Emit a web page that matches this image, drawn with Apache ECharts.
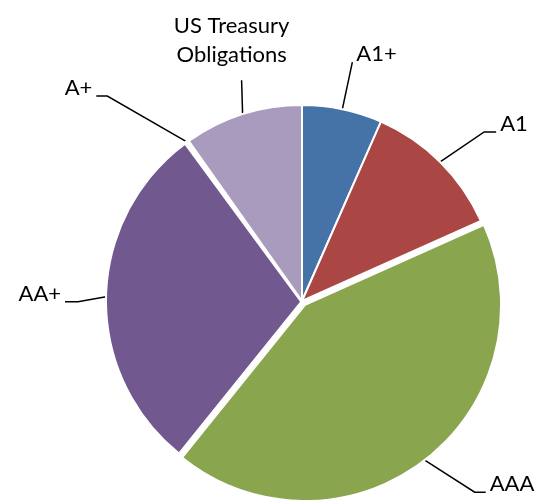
<!DOCTYPE html>
<html><head><meta charset="utf-8">
<script src="https://cdn.jsdelivr.net/npm/echarts@6/dist/echarts.min.js"></script>
<style>html,body{margin:0;padding:0;background:#fff}#c{width:538px;height:500px}</style>
</head><body><div id="c"></div>
<script>
const categories = ['A1+', 'A1', 'AAA', 'AA+', 'A+', 'US Treasury\nObligations'];
const values = [6.6, 11.7, 42.5, 29.1, 0.3, 9.8];
const colors = ['#4572A7', '#AA4643', '#89A54E', '#71588F', '#4198AF', '#A99BBD'];
const explodedName = 'AAA';

// layout / style settings
const CX = 302, CY = 301, R = 196, EXPLODE = 5;
const leaderStyle = [
  {dx: 10, dy: -47, h: 0, side: 'right'},
  {dx: 44, dy: -30, h: 12, side: 'right'},
  {dx: 50, dy: 32, h: 11, side: 'right'},
  {dx: -28, dy: 5, h: 13, side: 'left'},
  {dx: -80, dy: -46, h: 11, side: 'left'},
  {dx: -1, dy: -34, h: 0, side: 'top'}
];

const exIdx = categories.indexOf(explodedName);
const total = values.reduce((a, b) => a + b, 0);
const before = values.slice(0, exIdx).reduce((a, b) => a + b, 0);
const midA = (before + values[exIdx] / 2) / total * 2 * Math.PI;
const ex = [EXPLODE * Math.sin(midA), -EXPLODE * Math.cos(midA)];

const transparent = 'rgba(0,0,0,0)';
const chart = echarts.init(document.getElementById('c'), null, {renderer: 'canvas'});
chart.setOption({
  animation: false,
  series: [{
    type: 'pie',
    center: [CX, CY],
    radius: [0, R],
    startAngle: 90,
    clockwise: true,
    avoidLabelOverlap: false,
    minShowLabelAngle: 0,
    silent: true,
    itemStyle: {borderColor: '#fff', borderWidth: 2},
    label: {
      show: true, color: '#000', fontFamily: 'Lato', fontSize: 22, lineHeight: 29,
      position: 'outside'
    },
    labelLine: {show: true, length: 30, length2: 10, smooth: false, lineStyle: {color: '#000', width: 1.5}},
    labelLayout: function (params) {
      const i = params.dataIndex;
      const s = leaderStyle[i];
      const pts = params.labelLinePoints;
      if (!pts) return {hideOverlap: false};
      let p0 = pts[0];
      if (i === exIdx) p0 = [p0[0] + ex[0], p0[1] + ex[1]];
      const p1 = [p0[0] + s.dx, p0[1] + s.dy];
      if (s.side === 'top') {
        return {
          x: p1[0] - 10, y: p1[1] - 40, align: 'center', verticalAlign: 'middle',
          hideOverlap: false, labelLinePoints: [p0, p1, p1]
        };
      }
      const dir = s.side === 'right' ? 1 : -1;
      const p2 = [p1[0] + dir * s.h, p1[1]];
      return {
        x: p2[0] + dir * 4, y: p2[1] - 8, align: s.side === 'right' ? 'left' : 'right',
        verticalAlign: 'middle', hideOverlap: false, labelLinePoints: [p0, p1, p2]
      };
    },
    data: categories.map((c, i) => ({
      name: c, value: values[i],
      itemStyle: i === exIdx ? {color: transparent, borderColor: transparent}
        : (c === 'A+' ? {color: colors[i], borderWidth: 4} : {color: colors[i]})
    }))
  }, {
    type: 'pie',
    center: [CX + ex[0], CY + ex[1]],
    radius: [0, R],
    startAngle: 90,
    clockwise: true,
    silent: true,
    label: {show: false},
    labelLine: {show: false},
    itemStyle: {borderColor: '#fff', borderWidth: 2},
    data: categories.map((c, i) => ({
      name: c, value: values[i],
      itemStyle: i === exIdx ? {color: colors[i]} : {color: transparent, borderColor: transparent}
    }))
  }]
});
</script></body></html>
